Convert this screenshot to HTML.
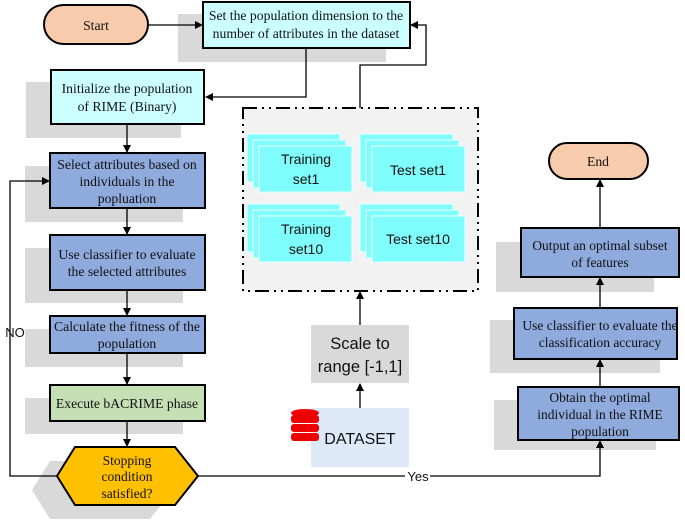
<!DOCTYPE html>
<html><head><style>body{margin:0;background:#fff}svg{display:block}</style></head><body>
<svg width="685" height="521" viewBox="0 0 685 521" xmlns="http://www.w3.org/2000/svg">
<defs><marker id="a" markerWidth="8" markerHeight="8" refX="7" refY="4" orient="auto" markerUnits="userSpaceOnUse"><path d="M0,0L8,4L0,8z" fill="#000"/></marker></defs>
<g fill="#d9d9d9">
<rect x="178" y="14" width="208" height="48"/>
<rect x="26" y="82" width="155" height="56"/>
<rect x="25" y="166" width="158" height="56"/>
<rect x="25" y="248" width="158" height="55"/>
<rect x="25" y="329" width="158" height="38"/>
<rect x="25" y="398" width="158" height="36"/>
<polygon points="32,490 50,461 150,461 173,490 150,519 50,519"/>
<rect x="496" y="242" width="158" height="50"/>
<rect x="490" y="320" width="170" height="53"/>
<rect x="494" y="400" width="162" height="50"/>
</g>
<g stroke="#000" stroke-width="1.3" fill="none">
<line x1="148" y1="25" x2="202" y2="25" marker-end="url(#a)"/>
<polyline points="306,48 306,97 206,97" marker-end="url(#a)"/>
<polyline points="360,108 360,65 426,65 426,25 411,25" marker-end="url(#a)"/>
<line x1="127" y1="124" x2="127" y2="152" marker-end="url(#a)"/>
<line x1="127" y1="208" x2="127" y2="234" marker-end="url(#a)"/>
<line x1="127" y1="290" x2="127" y2="315" marker-end="url(#a)"/>
<line x1="127" y1="353" x2="127" y2="384" marker-end="url(#a)"/>
<line x1="127" y1="421" x2="127" y2="446" marker-end="url(#a)"/>
<polyline points="57,476 10,476 10,181 49,181" marker-end="url(#a)"/>
<polyline points="198,476 405,476"/><polyline points="430,476 600,476 600,441" marker-end="url(#a)"/>
<line x1="600" y1="387" x2="600" y2="360" marker-end="url(#a)"/>
<line x1="600" y1="308" x2="600" y2="278" marker-end="url(#a)"/>
<line x1="600" y1="228" x2="600" y2="180" marker-end="url(#a)"/>
<line x1="360" y1="325" x2="360" y2="292" marker-end="url(#a)"/>
<line x1="360" y1="408" x2="360" y2="384" marker-end="url(#a)"/>
</g>
<rect x="44" y="5" width="104" height="39" rx="19.5" fill="#f8cbad" stroke="#000" stroke-width="2"/>
<rect x="549" y="143" width="99" height="36" rx="18" fill="#f8cbad" stroke="#000" stroke-width="2"/>
<g stroke="#000" stroke-width="2">
<rect x="203" y="2" width="207" height="46" fill="#ccffff"/>
<rect x="51" y="70" width="153" height="54" fill="#ccffff"/>
<rect x="50" y="153" width="155" height="55" fill="#8faadc"/>
<rect x="50" y="235" width="155" height="55" fill="#8faadc"/>
<rect x="50" y="316" width="155" height="37" fill="#8faadc"/>
<rect x="50" y="385" width="155" height="36" fill="#c5e0b4"/>
<polygon points="57,476 75,447 175,447 198,476 175,505 75,505" fill="#ffc000"/>
<rect x="521" y="228" width="158" height="49" fill="#8faadc"/>
<rect x="514" y="308" width="163" height="51" fill="#8faadc"/>
<rect x="518" y="387" width="161" height="53" fill="#8faadc"/>
</g>
<rect x="243" y="108" width="235" height="183" fill="#f2f2f2" stroke="#000" stroke-width="2" stroke-dasharray="14,5,2,5,2,5"/>
<g fill="#7ffcfc" stroke="#e8ffff" stroke-width="1">
<rect x="247" y="134" width="93" height="48"/><rect x="253" y="140" width="93" height="48"/><rect x="259" y="146" width="93" height="46"/>
<rect x="360" y="134" width="93" height="48"/><rect x="366" y="140" width="93" height="48"/><rect x="372" y="146" width="93" height="46"/>
<rect x="247" y="204" width="93" height="48"/><rect x="253" y="210" width="93" height="48"/><rect x="259" y="216" width="93" height="46"/>
<rect x="360" y="204" width="93" height="48"/><rect x="366" y="210" width="93" height="48"/><rect x="372" y="216" width="93" height="46"/>
</g>
<rect x="311" y="325" width="98" height="58" fill="#d9d9d9"/>
<rect x="311" y="408" width="98" height="59" fill="#dde9f6"/>
<g fill="#e00">
<ellipse cx="305" cy="413" rx="14" ry="4"/><rect x="291" y="415" width="28" height="8" rx="3"/><rect x="291" y="424" width="28" height="8" rx="3"/><rect x="291" y="433" width="28" height="8" rx="3"/>
</g>
<g font-family="Liberation Serif, serif" font-size="13.7" text-anchor="middle" fill="#111">
<text x="96" y="30">Start</text>
<text x="598" y="166">End</text>
<text x="306" y="20">Set the population dimension to the</text>
<text x="306" y="38">number of attributes in the dataset</text>
<text x="127" y="93">Initialize the  population</text>
<text x="127" y="111">of RIME (Binary)</text>
<text x="127" y="169">Select attributes based on</text>
<text x="127" y="186">individuals in the</text>
<text x="127" y="203">popluation</text>
<text x="127" y="259">Use  classifier to evaluate</text>
<text x="127" y="276">the selected attributes</text>
<text x="127" y="331">Calculate the fitness of the</text>
<text x="127" y="348">population</text>
<text x="127" y="408">Execute bACRIME phase</text>
<g font-size="13.5">
<text x="127" y="465">Stopping</text>
<text x="127" y="481">condition</text>
<text x="127" y="498">satisfied?</text>
<text x="600" y="250">Output an optimal subset</text>
<text x="600" y="267">of features</text>
<text x="600" y="330">Use classifier to evaluate the</text>
<text x="600" y="347">classification accuracy</text>
<text x="600" y="402">Obtain the optimal</text>
<text x="600" y="419">individual in the RIME</text>
<text x="600" y="436">population</text>
</g>
</g>
<g font-family="Liberation Sans, sans-serif" text-anchor="middle" fill="#111">
<text x="306" y="164" font-size="14">Training</text><text x="306" y="184" font-size="14">set1</text>
<text x="418" y="175" font-size="14">Test set1</text>
<text x="306" y="234" font-size="14">Training</text><text x="306" y="254" font-size="14">set10</text>
<text x="418" y="244" font-size="14">Test set10</text>
<text x="360" y="349" font-size="16.5">Scale to</text><text x="360" y="372" font-size="16.5">range [-1,1]</text>
<text x="360" y="444" font-size="16">DATASET</text>
<text x="15" y="337" font-size="13">NO</text>
<text x="418" y="481" font-size="13">Yes</text>
</g>
</svg>
</body></html>
